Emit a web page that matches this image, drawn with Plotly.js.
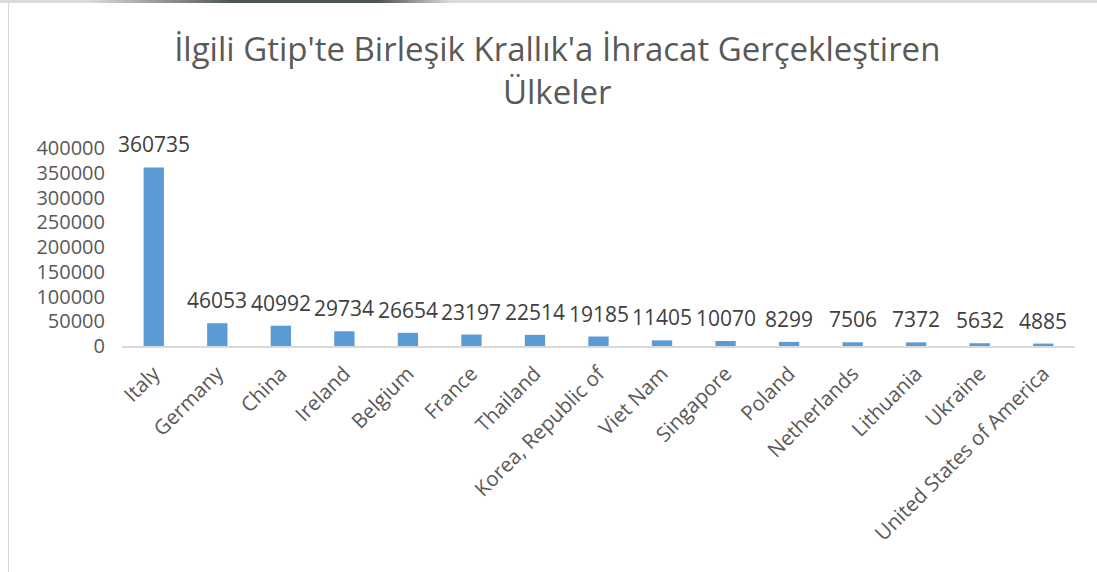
<!DOCTYPE html>
<html><head><meta charset="utf-8">
<script src="https://cdn.plot.ly/plotly-3.0.1.min.js"></script>
<style>
html,body{margin:0;padding:0;background:#fff;}
#wrap{position:relative;width:1097px;height:572px;overflow:hidden;background:#fff;}
#topband{position:absolute;left:0;top:0;width:1097px;height:3px;background:#dadada;}
#shade{position:absolute;left:90px;top:0;width:360px;height:3px;background:linear-gradient(to right,rgba(60,70,65,0),rgba(60,70,65,0.9) 40%,rgba(60,70,65,0.9) 80%,rgba(60,70,65,0));}
#frame{position:absolute;left:8px;top:3px;width:1095px;height:580px;border-left:1.5px solid #d9d9d9;box-sizing:border-box;}
#chart{position:absolute;left:0;top:0;width:1097px;height:572px;}
</style></head>
<body>
<div id="wrap"><div id="topband"></div><div id="shade"></div><div id="frame"></div><div id="chart"></div></div>
<script>
const countries = ["Italy","Germany","China","Ireland","Belgium","France","Thailand","Korea, Republic of","Viet Nam","Singapore","Poland","Netherlands","Lithuania","Ukraine","United States of America"];
const exportValues = [360735,46053,40992,29734,26654,23197,22514,19185,11405,10070,8299,7506,7372,5632,4885];
const yTickValues = [0,50000,100000,150000,200000,250000,300000,350000,400000];

const font = "Open Sans, Noto Sans, sans-serif";
const labels = countries.map((c,i)=>({
  x:c, y:exportValues[i], xref:'x', yref:'y', text:String(exportValues[i]),
  showarrow:false, xanchor:'center', yanchor:'bottom', yshift:7,
  font:{family:font,size:21,color:'#404040'}
}));
Plotly.newPlot('chart', [{
  type:'bar', x:countries, y:exportValues,
  marker:{color:'#5b9bd5'},
  hoverinfo:'x+y'
}], {
  width:1097, height:572,
  margin:{l:122,r:22,t:148,b:226,autoexpand:false},
  paper_bgcolor:'rgba(0,0,0,0)', plot_bgcolor:'rgba(0,0,0,0)',
  bargap:0.68,
  showlegend:false,
  annotations:labels,
  title:{text:"İlgili Gtip'te Birleşik Krallık'a İhracat Gerçekleştiren<br>Ülkeler",
    font:{family:font,size:33,color:'#595959'}, x:0.508, xanchor:'center', y:0.893, yanchor:'top'},
  xaxis:{range:[-0.5, countries.length-0.5], tickangle:-45, tickfont:{family:font,size:20.5,color:'#595959'}, ticklabelstandoff:6, automargin:false,
    showline:true, linecolor:'#d9d9d9', linewidth:1.5, ticks:'', showgrid:false, zeroline:false, fixedrange:true},
  yaxis:{range:[0,400000], tickvals:yTickValues, ticktext:yTickValues.map(String), ticklabelstandoff:16, automargin:false,
    tickfont:{family:font,size:20,color:'#595959'}, showgrid:false, zeroline:false, showline:false, ticks:'', fixedrange:true}
}, {displayModeBar:false, staticPlot:true});
</script>
</body></html>
